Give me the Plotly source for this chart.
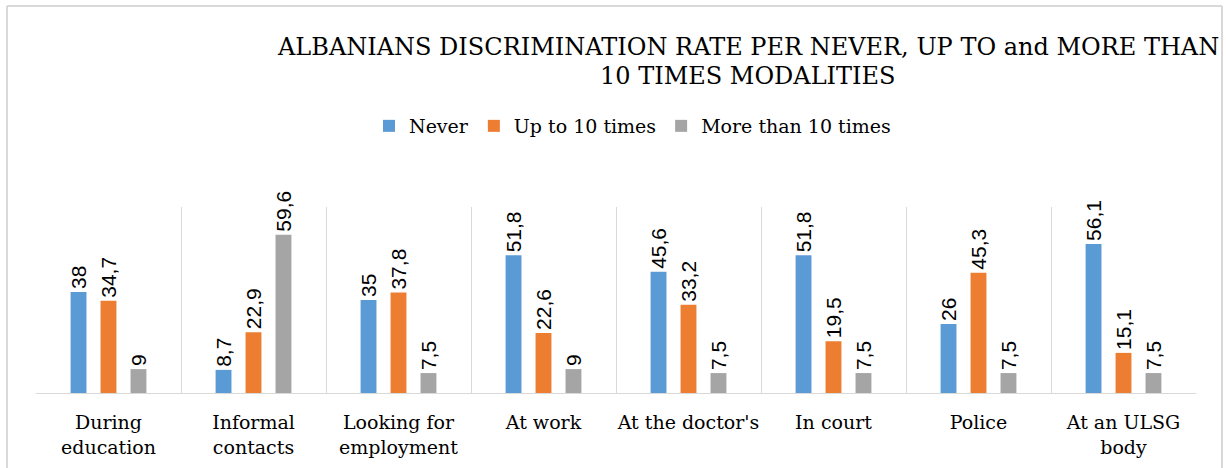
import plotly.graph_objects as go

categories = ["During<br>education", "Informal<br>contacts", "Looking for<br>employment",
              "At work", "At the doctor's", "In court", "Police", "At an ULSG<br>body"]
never = [38, 8.7, 35, 51.8, 45.6, 51.8, 26, 56.1]
up_to_10 = [34.7, 22.9, 37.8, 22.6, 33.2, 19.5, 45.3, 15.1]
more_than_10 = [9, 59.6, 7.5, 9, 7.5, 7.5, 7.5, 7.5]

series = [
    ("Never", never, "#5B9BD5"),
    ("Up to 10 times", up_to_10, "#ED7D31"),
    ("More than 10 times", more_than_10, "#A5A5A5"),
]

W, H = 1226, 468
L, R, T, B = 36, 30, 207, 75
plot_w = W - L - R
plot_h = H - T - B


def px_x(px):
    return (px - L) / plot_w


def px_y(py):
    return (H - B - py) / plot_h


def fmt(v):
    return f"{v:g}".replace(".", ",")


fig = go.Figure()
for name, vals, color in series:
    fig.add_trace(go.Bar(
        name=name, x=categories, y=vals, marker_color=color,
        marker_line_width=0,
        text=[fmt(v) for v in vals], textposition="outside", textangle=-90,
        constraintext="none", cliponaxis=False,
        textfont=dict(family="Liberation Sans", size=21, color="#000000"),
    ))

serif = "DejaVu Serif"
border = "#d9d9d9"

fig.update_layout(
    width=W, height=H,
    margin=dict(l=L, r=R, t=T, b=B, autoexpand=False),
    paper_bgcolor="white", plot_bgcolor="white",
    barmode="group", bargap=0.38, bargroupgap=0.47,
    showlegend=True,
    legend=dict(orientation="h", x=px_x(369), xanchor="left",
                y=px_y(126), yanchor="middle",
                font=dict(family=serif, size=19, color="#000000"),
                itemwidth=30, bgcolor="rgba(0,0,0,0)"),
    xaxis=dict(type="category", tickson="boundaries", showgrid=True,
               gridcolor=border, gridwidth=1, showline=True, linecolor=border,
               linewidth=1, ticks="", ticklabelstandoff=12, tickangle=0,
               automargin=False,
               tickfont=dict(family=serif, size=19, color="#000000"),
               range=[-0.5, 7.5], fixedrange=True),
    yaxis=dict(range=[0, 70], visible=False, showgrid=False, zeroline=False,
               automargin=False),
    annotations=[
        dict(text="ALBANIANS DISCRIMINATION RATE PER NEVER, UP TO and MORE THAN",
             xref="paper", yref="paper", x=px_x(748), y=px_y(47),
             xanchor="center", yanchor="middle", showarrow=False,
             font=dict(family=serif, size=24, color="#000000")),
        dict(text="10 TIMES MODALITIES",
             xref="paper", yref="paper", x=px_x(748), y=px_y(76),
             xanchor="center", yanchor="middle", showarrow=False,
             font=dict(family=serif, size=24, color="#000000")),
    ],
    shapes=[
        dict(type="line", xref="paper", yref="paper", x0=px_x(7), x1=px_x(7),
             y0=px_y(6), y1=px_y(480), line=dict(color=border, width=2)),
        dict(type="line", xref="paper", yref="paper", x0=px_x(7), x1=px_x(1222),
             y0=px_y(6), y1=px_y(6), line=dict(color=border, width=2)),
        dict(type="line", xref="paper", yref="paper", x0=px_x(1222), x1=px_x(1222),
             y0=px_y(6), y1=px_y(480), line=dict(color=border, width=2)),
    ],
)

fig.write_html("out.html")
